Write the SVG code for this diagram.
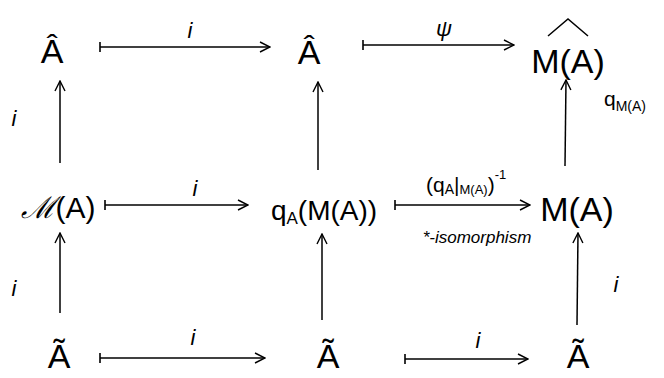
<svg xmlns="http://www.w3.org/2000/svg" width="664" height="378" viewBox="0 0 664 378">
<defs>
<marker id="head" viewBox="0 0 12 12" refX="11" refY="6" markerWidth="12" markerHeight="12" markerUnits="userSpaceOnUse" orient="auto">
<path d="M1,1 L11,6 L1,11" fill="none" stroke="#000" stroke-width="1.4"/>
</marker>
<marker id="tail" viewBox="0 0 4 12" refX="2" refY="6" markerWidth="4" markerHeight="12" markerUnits="userSpaceOnUse" orient="auto">
<path d="M2,1 L2,11" fill="none" stroke="#000" stroke-width="1.6"/>
</marker>
</defs>
<style>
text{font-family:"Liberation Sans","DejaVu Sans",sans-serif;fill:#000}
.n{font-size:34px}
.l{font-size:22px;font-style:italic}
.s{font-size:21px}
.e line{stroke:#000;stroke-width:1.5;fill:none}
.map{marker-start:url(#tail);marker-end:url(#head)}
.up{marker-end:url(#head)}
</style>
<rect width="664" height="378" fill="#fff"/>
<g id="n_hatA1"><text class="n" x="52" y="63" text-anchor="middle">Â</text></g>
<g id="n_hatA2"><text class="n" x="309" y="64" text-anchor="middle">Â</text></g>
<g id="n_hatMA"><text class="n" x="568" y="73" text-anchor="middle">M(A)</text><path d="M548,36 L568,19 L588,36" fill="none" stroke="#000" stroke-width="1.5"/></g>
<g id="n_mA"><text class="n" x="58" y="218" text-anchor="middle" style="font-size:30px"><tspan font-style="italic" font-family="DejaVu Serif, serif">ℳ</tspan>(A)</text></g>
<g id="n_qAMA"><text class="n" x="324" y="220" text-anchor="middle" style="font-size:28px">q<tspan font-size="17px" dy="4">A</tspan><tspan dy="-4">(M(A))</tspan></text></g>
<g id="n_MA"><text class="n" x="577" y="221" text-anchor="middle">M(A)</text></g>
<g id="n_tA1"><text class="n" x="59" y="368" text-anchor="middle">Ã</text></g>
<g id="n_tA2"><text class="n" x="328" y="368" text-anchor="middle">Ã</text></g>
<g id="n_tA3"><text class="n" x="578" y="368" text-anchor="middle">Ã</text></g>
<g id="edges" class="e">
<line class="map" x1="100" y1="47" x2="270" y2="47"/>
<line class="map" x1="363" y1="45" x2="514" y2="45"/>
<line class="map" x1="105" y1="205" x2="248" y2="205"/>
<line class="map" x1="395" y1="205" x2="530" y2="205"/>
<line class="map" x1="100" y1="358" x2="265" y2="358"/>
<line class="map" x1="405" y1="359" x2="528" y2="359"/>
<line class="up" x1="60" y1="163" x2="60" y2="81"/>
<line class="up" x1="318" y1="170" x2="318" y2="82"/>
<line class="up" x1="565" y1="166" x2="566" y2="80"/>
<line class="up" x1="60" y1="313" x2="60" y2="233"/>
<line class="up" x1="322" y1="320" x2="322" y2="234"/>
<line class="up" x1="577" y1="325" x2="578" y2="233"/>
</g>
<g id="labels">
<text class="l" x="190" y="38" text-anchor="middle">i</text>
<text class="l" x="444" y="36" text-anchor="middle">ψ</text>
<text class="l" x="14" y="126" text-anchor="middle">i</text>
<text class="s" x="604" y="106">q<tspan font-size="14px" dy="5">M(A)</tspan></text>
<text class="l" x="195" y="196" text-anchor="middle">i</text>
<text class="s" x="426" y="192">(q<tspan font-size="14px" dy="2">A</tspan><tspan dy="-2">|</tspan><tspan font-size="13px" dy="2">M(A)</tspan><tspan dy="-2">)</tspan><tspan font-size="13px" dy="-13">-1</tspan></text>
<text class="s" x="477" y="243" text-anchor="middle" style="font-size:17px;font-style:italic">*-isomorphism</text>
<text class="l" x="14" y="296" text-anchor="middle">i</text>
<text class="l" x="193" y="345" text-anchor="middle">i</text>
<text class="l" x="478" y="348" text-anchor="middle">i</text>
<text class="l" x="616" y="292" text-anchor="middle">i</text>
</g>
</svg>
